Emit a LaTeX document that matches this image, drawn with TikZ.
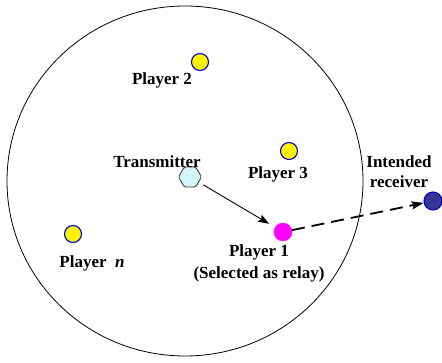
\documentclass[tikz,border=0pt]{standalone}
\usepackage{fontspec}
\setmainfont{Liberation Serif}
\usetikzlibrary{shapes.geometric,arrows.meta}
\definecolor{relaypink}{RGB}{255,0,255}
\definecolor{txcyan}{RGB}{212,246,246}
\definecolor{rxnavy}{RGB}{54,54,144}
\begin{document}
\begin{tikzpicture}[x=1pt,y=-1pt,
  lbl/.style={font=\fontsize{17}{20}\selectfont\bfseries, inner sep=0pt, align=center},
  player/.style={circle, draw=blue!85!black, line width=1.1pt, fill=yellow, minimum size=17pt, inner sep=0pt},
  relay/.style={circle, fill=relaypink, draw=relaypink, minimum size=18pt, inner sep=0pt},
  source/.style={regular polygon, regular polygon sides=6, draw=black!75, line width=0.9pt, fill=txcyan, minimum size=23pt, inner sep=0pt, rounded corners=1.5pt},
  dest/.style={circle, fill=rxnavy, draw=blue!80!black, line width=1.1pt, minimum size=18pt, inner sep=0pt}]
\useasboundingbox (0,0) rectangle (442,363);
% coverage area
\draw[line width=0.8pt] (185,181) ellipse [x radius=178, y radius=175];
% nodes
\node[player] (p2) at (200,62) {};
\node[lbl] (p2l) at (162,80) {Player 2};
\node[player] (p3) at (289,151) {};
\node[lbl] (p3l) at (278,174) {Player 3};
\node[player] (pn) at (73,234) {};
\node[lbl] (pnl) at (92,263) {Player\ \ \textit{n}};
\node[source] (tx) at (190,177) {};
\node[lbl] (txl) at (157,162) {Transmitter};
\node[relay] (p1) at (283,232) {};
\node[lbl] (p1l) at (259,263) {Player 1\\[2pt](Selected as relay)};
\node[dest] (rx) at (433,201) {};
\node[lbl] (rxl) at (399,172) {Intended\\receiver};
% links
\draw[-{Stealth[length=11pt,width=8pt,inset=2pt]}, line width=0.9pt, shorten <=5pt, shorten >=7pt] (tx) -- (p1);
\draw[-{Stealth[length=12pt,width=8pt,inset=2pt]}, line width=1.8pt, dash pattern=on 13pt off 7pt] (p1) -- (rx);
\end{tikzpicture}
\end{document}
